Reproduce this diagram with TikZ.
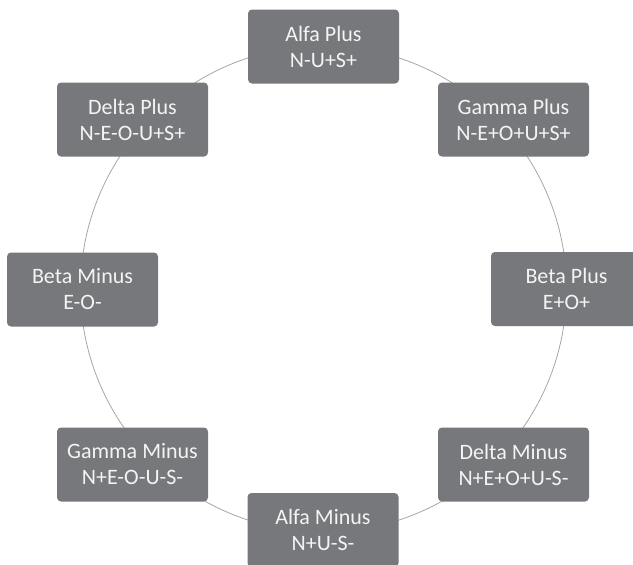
\documentclass[tikz,border=0pt]{standalone}
\usepackage{fontspec}
\setmainfont{Carlito}
\definecolor{boxgray}{HTML}{77787B}
\definecolor{ringgray}{HTML}{A6A6A6}
\definecolor{boxtext}{HTML}{F4F4F4}
\tikzset{
  stagebox/.style={fill=boxgray, rounded corners=4pt, minimum width=151pt, minimum height=74pt,
    inner sep=0pt, align=center, text=boxtext, font=\fontsize{22}{26}\selectfont},
  ringline/.style={draw=ringgray, line width=0.8pt, circle, inner sep=0pt, minimum size=486pt}
}
\begin{document}
\begin{tikzpicture}[x=1pt,y=-1pt]
\useasboundingbox (0,0) rectangle (633,565);
\clip (0,0) rectangle (633,565);
\node[ringline] (ring) at (323.5,289) {};
\node[stagebox] (ap) at (323.5,46.5) {Alfa Plus\\N-U+S+};
\node[stagebox] (gp) at (513.5,119.5) {Gamma Plus\\N-E+O+U+S+};
\node[stagebox] (bp) at (566.5,289) {Beta Plus\\E+O+};
\node[stagebox] (dm) at (513.5,464.5) {Delta Minus\\N+E+O+U-S-};
\node[stagebox] (am) at (323,530) {Alfa Minus\\N+U-S-};
\node[stagebox] (gm) at (132.5,464.5) {Gamma Minus\\N+E-O-U-S-};
\node[stagebox] (bm) at (82.5,289.5) {Beta Minus\\E-O-};
\node[stagebox] (dp) at (132.5,119.5) {Delta Plus\\N-E-O-U+S+};
\end{tikzpicture}
\end{document}
